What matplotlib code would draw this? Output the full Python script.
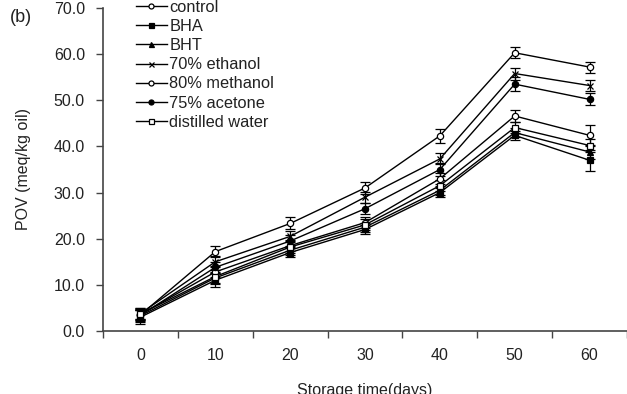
import numpy as np
import matplotlib
matplotlib.use('agg')
import matplotlib.pyplot as plt
from matplotlib.ticker import FixedLocator, NullFormatter

plt.rcParams['font.family'] = ['Liberation Sans', 'DejaVu Sans']

days = ['0', '10', '20', '30', '40', '50', '60']

control = [3.5, 17.2, 23.3, 31.0, 42.3, 60.3, 57.2]
bha = [3.0, 11.0, 17.0, 22.0, 30.0, 42.4, 37.0]
bht = [3.3, 11.5, 17.5, 22.5, 30.5, 43.0, 38.8]
ethanol = [3.8, 15.0, 20.5, 29.0, 37.3, 55.8, 53.2]
methanol = [3.6, 12.8, 18.5, 23.5, 33.0, 46.6, 42.4]
acetone = [3.4, 13.8, 19.5, 26.5, 35.0, 53.5, 50.2]
water = [3.7, 11.8, 18.2, 23.0, 31.5, 44.1, 40.2]

control_err = [1.2, 1.2, 1.3, 1.3, 1.5, 1.2, 1.2]
bha_err = [1.5, 1.5, 1.0, 1.0, 1.0, 1.0, 2.3]
bht_err = [1.3, 1.3, 1.0, 1.0, 1.0, 1.0, 1.5]
ethanol_err = [1.2, 1.2, 1.2, 1.2, 1.2, 1.3, 1.2]
methanol_err = [1.2, 1.2, 1.2, 1.2, 1.2, 1.3, 2.3]
acetone_err = [1.2, 1.2, 1.2, 1.2, 1.5, 1.5, 1.3]
water_err = [1.2, 1.5, 1.2, 1.2, 1.2, 1.2, 1.5]

series = [
    ('control', control, control_err, 'o', 'white'),
    ('BHA', bha, bha_err, 's', 'black'),
    ('BHT', bht, bht_err, '^', 'black'),
    ('70% ethanol', ethanol, ethanol_err, 'x', 'black'),
    ('80% methanol', methanol, methanol_err, 'o', 'white'),
    ('75% acetone', acetone, acetone_err, 'o', 'black'),
    ('distilled water', water, water_err, 's', 'white'),
]

fig = plt.figure(figsize=(6.27, 3.94), dpi=100)
ax = fig.add_axes([103 / 627, 63 / 394, 524 / 627, 323 / 394])

x = np.arange(len(days))
for name, vals, err, m, fc in series:
    ax.errorbar(x, vals, yerr=err, color='black', lw=1.0, marker=m,
                markersize=4.5, markerfacecolor=fc, markeredgecolor='black',
                markeredgewidth=0.9, elinewidth=0.9, capsize=3.5, capthick=0.9,
                label=name)

ax.set_xlim(-0.5, 6.5)
ax.set_ylim(0, 70)
ax.xaxis.set_major_locator(FixedLocator(np.arange(-0.5, 7.0, 1.0)))
ax.xaxis.set_major_formatter(NullFormatter())
ax.xaxis.set_minor_locator(FixedLocator(x))
ax.set_xticklabels(days, minor=True)
ax.tick_params(axis='x', which='major', length=5, width=1, color='#444444')
ax.tick_params(axis='x', which='minor', length=0, pad=12, labelsize=11.5,
               labelcolor='#222222')
ax.set_yticks(np.arange(0, 71, 10))
ax.set_yticklabels(['%.1f' % v for v in np.arange(0, 71, 10)])
ax.tick_params(axis='y', length=5, width=1, color='#444444', pad=8,
               labelsize=11.5, labelcolor='#222222')

for s in ['top', 'right']:
    ax.spines[s].set_visible(False)
for s in ['left', 'bottom']:
    ax.spines[s].set_color('#444444')
    ax.spines[s].set_linewidth(1.2)

ax.set_ylabel('POV (meq/kg oil)', fontsize=11.5, labelpad=16, color='#222222')
ax.set_xlabel('Storage time(days)', fontsize=11.5, labelpad=15, color='#222222')

handles, labels = ax.get_legend_handles_labels()
handles = [h[0] for h in handles]
leg = ax.legend(handles, labels, loc='upper left', bbox_to_anchor=(0.05, 1.045),
                frameon=False, fontsize=11.8, handlelength=1.9, handletextpad=0.15,
                labelspacing=0.25, borderaxespad=0, markerscale=0.8)
for t in leg.get_texts():
    t.set_color('#222222')

fig.text(10 / 627, 1 - 17 / 394, '(b)', fontsize=13, va='center', color='#222222')

fig.savefig('out.png', dpi=100)
